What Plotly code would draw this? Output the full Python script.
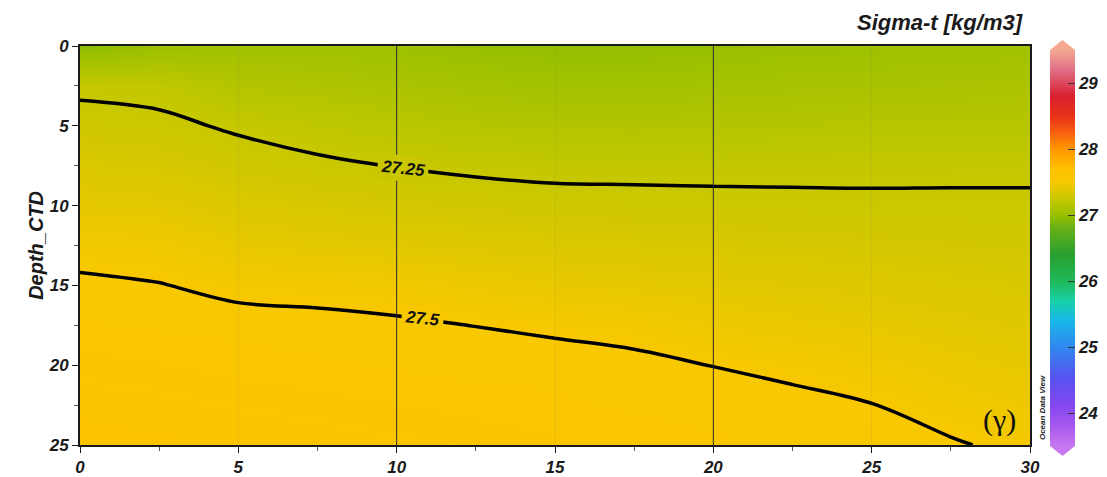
import plotly.graph_objects as go
import numpy as np

# ---- data (Sigma-t section) ----
distance = [0, 2.5, 5, 7.5, 10, 12.5, 15, 17.5, 20, 22.5, 25, 27.5, 30]
depth = [0, 2.5, 5, 7.5, 10, 12.5, 15, 17.5, 20, 22.5, 25]

# one profile (values down the depth list) per distance station
sigma_t_profiles = [
    [26.95, 27.229, 27.287, 27.345, 27.403, 27.471, 27.514, 27.537, 27.564, 27.592, 27.62],
    [27.02, 27.216, 27.273, 27.331, 27.389, 27.461, 27.503, 27.529, 27.556, 27.583, 27.61],
    [27.05, 27.139, 27.236, 27.295, 27.355, 27.414, 27.481, 27.525, 27.544, 27.572, 27.60],
    [27.05, 27.124, 27.204, 27.268, 27.333, 27.398, 27.474, 27.520, 27.538, 27.564, 27.59],
    [27.03, 27.102, 27.175, 27.247, 27.315, 27.382, 27.465, 27.511, 27.531, 27.555, 27.58],
    [27.00, 27.076, 27.152, 27.231, 27.298, 27.366, 27.440, 27.499, 27.523, 27.547, 27.57],
    [26.98, 27.059, 27.139, 27.221, 27.287, 27.352, 27.417, 27.488, 27.525, 27.538, 27.56],
    [26.98, 27.058, 27.135, 27.221, 27.282, 27.342, 27.403, 27.476, 27.516, 27.529, 27.55],
    [27.00, 27.071, 27.142, 27.221, 27.277, 27.333, 27.388, 27.444, 27.499, 27.520, 27.54],
    [27.02, 27.085, 27.150, 27.223, 27.273, 27.324, 27.374, 27.425, 27.483, 27.518, 27.53],
    [27.03, 27.092, 27.154, 27.224, 27.270, 27.317, 27.363, 27.409, 27.462, 27.502, 27.52],
    [27.04, 27.099, 27.158, 27.228, 27.268, 27.308, 27.348, 27.388, 27.428, 27.468, 27.508],
    [27.05, 27.106, 27.161, 27.230, 27.266, 27.301, 27.337, 27.372, 27.408, 27.443, 27.479],
]
contour_levels = [27.25, 27.5]
contour_label_text = ["27.25", "27.5"]
cbar_ticks = [24, 25, 26, 27, 28, 29]
x_ticks = [0, 5, 10, 15, 20, 25, 30]
y_ticks = [0, 5, 10, 15, 20, 25]
z_min, z_max = 23.5, 29.5

# layout-only placement of the contour labels (distance, depth) and the field colour behind them
label_pos = [(10.2, 7.65), (10.8, 17.1)]
label_bg = ["#c9c700", "#f7c800"]

z = np.array(sigma_t_profiles).T  # rows = depth, cols = distance

# ODV-like rainbow colour scale
stops = [
    (23.5, "#c878f0"), (23.8, "#a858f0"), (24.1, "#8648f0"), (24.5, "#5a50f0"),
    (25.0, "#3088f0"), (25.4, "#18b8e8"), (25.7, "#18d0a8"), (26.0, "#20b858"),
    (26.4, "#28a030"), (26.8, "#68b018"), (27.0, "#98c000"), (27.25, "#c8c800"),
    (27.5, "#f8c800"), (27.7, "#ffbf00"), (28.0, "#ff9800"), (28.25, "#f86010"),
    (28.5, "#e83018"), (28.8, "#d82030"), (29.2, "#e07088"), (29.5, "#f4a890"),
]
colorscale = [[(v - z_min) / (z_max - z_min), c] for v, c in stops]

FONT = "Liberation Sans, Arial, sans-serif"
bold_italic = dict(family=FONT, weight="bold", style="italic", color="#1a1a1a")

# plot area in pixels: x 80..1030, y 46..445
def px_to_paper(px, py):
    return (px - 80) / 950, (445 - py) / 399

cb_x, cb_y = px_to_paper(1050, 248)

fig = go.Figure()
fig.add_trace(go.Heatmap(
    x=distance, y=depth, z=z,
    zmin=z_min, zmax=z_max, zauto=False,
    colorscale=colorscale, zsmooth="best",
    colorbar=dict(
        x=cb_x, xanchor="left", y=cb_y, yanchor="middle",
        xpad=0, ypad=0,
        lenmode="pixels", len=396,
        thicknessmode="pixels", thickness=25,
        outlinewidth=0,
        tickvals=cbar_ticks, ticks="inside", ticklen=7, tickcolor="#333", tickwidth=1,
        tickfont=dict(size=17, **bold_italic),
    ),
    hoverinfo="skip",
))
fig.add_trace(go.Contour(
    x=distance, y=depth, z=z,
    autocontour=False,
    contours=dict(start=contour_levels[0], end=contour_levels[-1],
                  size=contour_levels[1] - contour_levels[0],
                  coloring="none", showlabels=False),
    line=dict(color="black", width=3.5, smoothing=1.0),
    showscale=False,
    hoverinfo="skip",
))

for xv in [5, 15, 25]:
    fig.add_vline(x=xv, line=dict(color="rgba(120,120,120,0.12)", width=1))
for xv in [10, 20]:
    fig.add_vline(x=xv, line=dict(color="#2a2a2a", width=1))

for (lx, ly), txt, bg in zip(label_pos, contour_label_text, label_bg):
    fig.add_annotation(x=lx, y=ly, text=txt, showarrow=False, textangle=6,
                       bgcolor=bg, borderpad=3,
                       font=dict(size=17, family=FONT, weight="bold", style="italic", color="#111"))

axis_common = dict(showline=True, linecolor="#1a1a1a", linewidth=2, mirror=True,
                   ticks="outside", ticklen=6, tickcolor="#1a1a1a", tickwidth=1,
                   showgrid=False, zeroline=False,
                   tickfont=dict(size=17, **bold_italic))

fig.update_xaxes(range=[0, 30], tickvals=x_ticks,
                 minor=dict(ticks="outside", ticklen=4, dtick=2.5, tickcolor="#555", showgrid=False),
                 **axis_common)
fig.update_yaxes(range=[25, 0], tickvals=y_ticks,
                 minor=dict(ticks="outside", ticklen=4, dtick=2.5, tickcolor="#555", showgrid=False),
                 **axis_common)

# pointed end caps of the colour bar (decoration, pixel-placed)
tx0, ty0 = px_to_paper(1050, 50)
tx1, ty1 = px_to_paper(1062.5, 40)
tx2, _ = px_to_paper(1075, 50)
fig.add_shape(type="path", xref="paper", yref="paper",
              path=f"M {tx0} {ty0} L {tx1} {ty1} L {tx2} {ty0} Z",
              fillcolor="#f4a890", line=dict(width=0))
bx0, by0 = px_to_paper(1050, 446)
bx1, by1 = px_to_paper(1062.5, 456)
bx2, _ = px_to_paper(1075, 446)
fig.add_shape(type="path", xref="paper", yref="paper",
              path=f"M {bx0} {by0} L {bx1} {by1} L {bx2} {by0} Z",
              fillcolor="#c878f0", line=dict(width=0))

fig.add_annotation(text="Sigma-t [kg/m3]", xref="paper", yref="paper",
                   x=0.9947, y=1.06, xanchor="right", yanchor="middle", showarrow=False,
                   font=dict(size=22, **bold_italic))
fig.add_annotation(text="Depth_CTD", xref="paper", yref="paper",
                   x=-0.047, y=0.5, xanchor="center", yanchor="middle", textangle=-90,
                   showarrow=False, font=dict(size=20, **bold_italic))
fig.add_annotation(text="(\u03b3)", xref="paper", yref="paper",
                   x=0.968, y=0.063, xanchor="center", yanchor="middle", showarrow=False,
                   font=dict(size=30, family="Liberation Serif, DejaVu Serif, serif", color="#111"))
fig.add_annotation(text="Ocean Data View", xref="paper", yref="paper",
                   x=1.0126, y=0.095, xanchor="center", yanchor="middle", textangle=-90,
                   showarrow=False, font=dict(size=8, **bold_italic))

fig.update_layout(width=1107, height=477,
                  margin=dict(l=80, r=77, t=46, b=32, autoexpand=False),
                  paper_bgcolor="white", plot_bgcolor="white",
                  showlegend=False)

fig.write_html("out.html")
